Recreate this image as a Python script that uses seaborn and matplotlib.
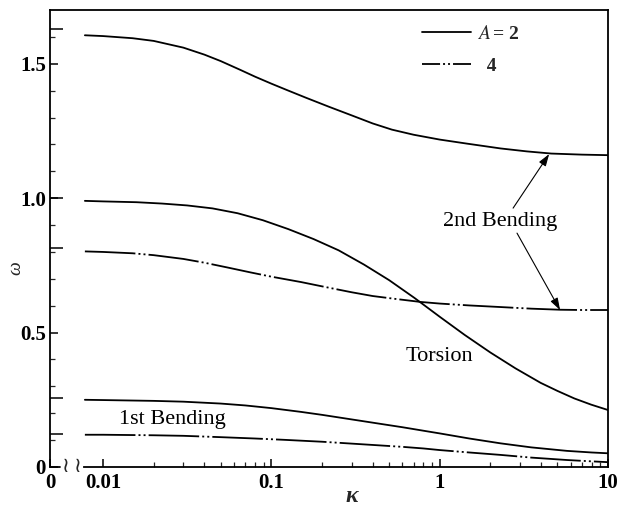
import numpy as np
import pandas as pd
import matplotlib
matplotlib.use("Agg")
import matplotlib.pyplot as plt
from matplotlib.lines import Line2D
import seaborn as sns

# ---- data ----
xi_2nd_A2 = [0.0078, 0.01, 0.015, 0.02, 0.03, 0.04, 0.05, 0.065, 0.08, 0.1, 0.124, 0.16,
             0.22, 0.3, 0.4, 0.52, 0.7, 1.0, 1.45, 2.3, 3.3, 4.6, 7, 10]
w_2nd_A2 = [1.606, 1.603, 1.595, 1.585, 1.56, 1.534, 1.51, 1.478, 1.452, 1.426, 1.402, 1.374,
            1.340, 1.308, 1.278, 1.255, 1.236, 1.218, 1.203, 1.185, 1.174, 1.166, 1.162, 1.16]

xi_tor_A2 = [0.0078, 0.01, 0.0158, 0.0224, 0.0316, 0.0447, 0.063, 0.089, 0.126, 0.178, 0.251,
             0.355, 0.501, 0.708, 1.0, 1.41, 2.0, 2.82, 3.98, 5.01, 6.31, 7.94, 10]
w_tor_A2 = [0.99, 0.988, 0.985, 0.980, 0.973, 0.962, 0.944, 0.918, 0.885, 0.848, 0.806,
            0.753, 0.695, 0.629, 0.559, 0.491, 0.426, 0.367, 0.313, 0.283, 0.255, 0.232, 0.212]

xi_2nd_A4 = [0.0078, 0.01, 0.015, 0.02, 0.03, 0.04, 0.055, 0.075, 0.1, 0.15, 0.2, 0.3, 0.4,
             0.55, 0.77, 1.0, 1.5, 2.3, 3.5, 5.2, 7, 10]
w_2nd_A4 = [0.802, 0.80, 0.795, 0.788, 0.774, 0.76, 0.742, 0.724, 0.708, 0.688, 0.672, 0.65, 0.636,
            0.625, 0.614, 0.608, 0.601, 0.595, 0.589, 0.585, 0.584, 0.584]

xi_1st_A2 = [0.0078, 0.01, 0.02, 0.03, 0.05, 0.07, 0.1, 0.15, 0.2, 0.3, 0.45, 0.6, 0.8, 1.0,
             1.5, 2.3, 3.5, 5.7, 8, 10]
w_1st_A2 = [0.25, 0.249, 0.246, 0.243, 0.236, 0.229, 0.219, 0.205, 0.194, 0.177, 0.16, 0.148,
            0.135, 0.125, 0.106, 0.088, 0.073, 0.06, 0.054, 0.051]

xi_1st_A4 = [0.0078, 0.01, 0.02, 0.03, 0.05, 0.08, 0.12, 0.2, 0.3, 0.45, 0.6, 0.8, 1.0, 1.5,
             2.3, 3.5, 5.7, 8, 10]
w_1st_A4 = [0.12, 0.12, 0.118, 0.116, 0.111, 0.106, 0.101, 0.094, 0.087, 0.08, 0.075, 0.069,
            0.063, 0.054, 0.045, 0.035, 0.026, 0.021, 0.018]

omega_at_zero = [1.63, 1.0, 0.815, 0.257, 0.123]

x_ticks = [0.01, 0.1, 1, 10]
x_ticklabels = ["0.01", "0.1", "1", "10"]
y_ticks = [0, 0.5, 1.0, 1.5]
y_ticklabels = ["0", "0.5", "1.0", "1.5"]
y_minor = [0.1, 0.2, 0.3, 0.4, 0.6, 0.7, 0.8, 0.9, 1.1, 1.2, 1.3, 1.4, 1.6]
x_minor = [k * 10.0 ** n for n in (-2, -1, 0) for k in range(2, 10)]

# ---- style ----
sns.set_style("ticks")
plt.rcParams['font.family'] = ['Liberation Serif', 'DejaVu Serif']
plt.rcParams['mathtext.fontset'] = 'stix'

W, H = 620, 514
fig = plt.figure(figsize=(W / 100, H / 100), dpi=100)
L, R, T, B = 50, 608, 10, 467
ax = fig.add_axes([L / W, 1 - B / H, (R - L) / W, (B - T) / H])
ax.set_xscale('log')

xmin, xmax = 0.00484, 10
ax.set_xlim(xmin, xmax)
ax.set_ylim(0, 1.70)

solid = '-'
dashdot = (0, (28, 1.7, 1.1, 1.7, 1.1, 1.7))


def draw(xs, ys, ls):
    df = pd.DataFrame({'xi': xs, 'omega': ys})
    sns.lineplot(data=df, x='xi', y='omega', ax=ax, color='black', lw=1.3,
                 linestyle=ls, sort=False, estimator=None)


draw(xi_2nd_A2, w_2nd_A2, solid)
draw(xi_2nd_A4, w_2nd_A4, dashdot)
draw(xi_tor_A2, w_tor_A2, solid)
draw(xi_1st_A2, w_1st_A2, solid)
draw(xi_1st_A4, w_1st_A4, dashdot)

# values at xi = 0 (short segments from the y axis)
ax.hlines(omega_at_zero, 0, 13 / (R - L), transform=ax.get_yaxis_transform(),
          color='black', lw=1.1)

# ---- axes / ticks ----
for s in ax.spines.values():
    s.set_linewidth(1.3)
    s.set_color('black')

xb_left, xb_right = 0.00555, 0.0077
ax.spines['bottom'].set_bounds(xb_right, xmax)
ax.plot([xmin, xb_left], [0, 0], color='black', lw=1.3, clip_on=False)
for xb in (0.0060, 0.0071):
    ax.text(xb, 0.004, "\u2240", ha='center', va='center', fontsize=15,
            family='DejaVu Sans', transform=ax.transData)

ax.set_xticks([xmin] + x_ticks)
ax.set_xticklabels(["0"] + x_ticklabels)
ax.set_xticks(x_minor, minor=True)
ax.set_xticklabels([], minor=True)
ax.set_yticks(y_ticks)
ax.set_yticklabels(y_ticklabels)
ax.set_yticks(y_minor, minor=True)

ax.tick_params(axis='both', which='major', direction='in', length=6, width=1.1,
               labelsize=15, pad=3, colors='black')
ax.tick_params(axis='both', which='minor', direction='in', length=3.5, width=0.9)
ax.tick_params(axis='x', which='major', pad=4)
for lab in ax.get_xticklabels() + ax.get_yticklabels():
    lab.set_fontweight('bold')

ax.set_xlabel("\u03ba", fontsize=17, fontweight='bold', style='italic')
ax.set_ylabel("\u03c9", fontsize=14, style='italic')
ax.xaxis.set_label_coords((352 - L) / (R - L), (B - 497) / (B - T))
ax.yaxis.set_label_coords((16 - L) / (R - L), (B - 268) / (B - T))
ax.xaxis.label.set_va('center')
ax.yaxis.label.set_va('center')

# ---- legend ----
h_solid = Line2D([], [], color='black', lw=1.3, linestyle='-')
h_dd = Line2D([], [], color='black', lw=1.3, linestyle=(0, (10, 1.66, 1.1, 1.66, 1.1, 1.66)))
leg = ax.legend([h_solid, h_dd], [r"$A\,$= 2", "  4"], loc='upper left',
                bbox_to_anchor=((422 - L) / (R - L), 0.967), frameon=False,
                handlelength=2.5, handletextpad=0.35, labelspacing=0.75,
                borderpad=0, borderaxespad=0, prop={'size': 14, 'weight': 'bold'})

# ---- annotations ----
tkw = dict(fontsize=16, color='black')
ax.text(2.29, 0.915, "2nd Bending", ha='center', va='center', **tkw)
ax.text(1.0, 0.41, "Torsion", ha='center', va='center', **tkw)
ax.text(0.0257, 0.175, "1st Bending", ha='center', va='center', **tkw)

apr = dict(arrowstyle='-|>,head_length=0.6,head_width=0.2', lw=0.8, color='black',
           mutation_scale=12, shrinkA=0, shrinkB=0)
ax.annotate("", xy=(4.47, 1.164), xytext=(2.73, 0.963), arrowprops=apr)
ax.annotate("", xy=(5.19, 0.584), xytext=(2.88, 0.87), arrowprops=apr)

fig.savefig("out.png", dpi=100)
